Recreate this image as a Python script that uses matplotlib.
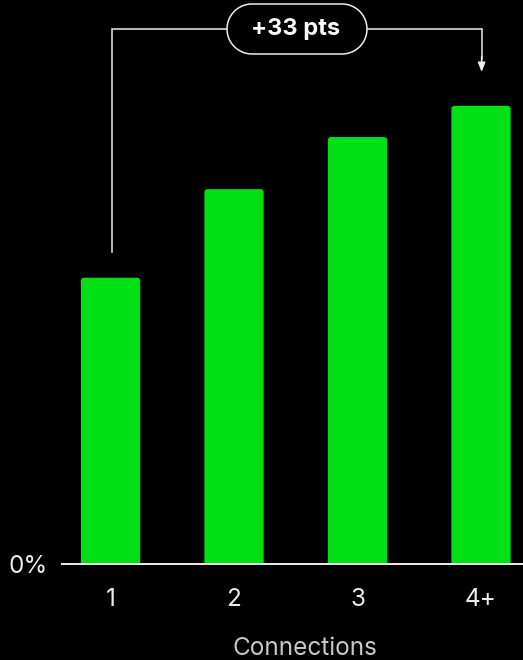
import numpy as np
import matplotlib.pyplot as plt
from matplotlib.patches import FancyBboxPatch, Polygon

plt.rcParams['font.family'] = ['Inter', 'DejaVu Sans']

categories = ['1', '2', '3', '4+']
values = [55, 72, 82, 88]
delta_label = '+33 pts'

green = '#00e014'
fg = '#ececec'

fig = plt.figure(figsize=(5.23, 6.6), dpi=100, facecolor='black')
ax = fig.add_axes([62 / 523, 95.7 / 660, 461 / 523, 564.3 / 660])
ax.set_facecolor('black')

x = list(range(len(categories)))
bw = 0.48
for xi, v in zip(x, values):
    ax.add_patch(FancyBboxPatch((xi - bw / 2, -5), bw, v + 5,
                                boxstyle='round,pad=0,rounding_size=0.025',
                                mutation_aspect=23.7, fc=green, ec='none'))

ax.set_xlim(-0.393, 3.34)
ax.set_ylim(0, 108.3)

for s in ['top', 'right', 'left']:
    ax.spines[s].set_visible(False)
ax.spines['bottom'].set_color(fg)
ax.spines['bottom'].set_linewidth(1.4)

ax.set_xticks(x)
ax.set_xticklabels(categories)
ax.set_yticks([0])
ax.set_yticklabels(['0%'])
ax.tick_params(axis='both', length=0, colors=fg, labelsize=17.5)
ax.tick_params(axis='x', pad=17)
ax.tick_params(axis='y', pad=10)
ax.set_xlabel('Connections', color='#c8c8c8', fontsize=17.5)
ax.xaxis.set_label_coords(0.527, -0.128)

# bracket annotation from first to last bar
top = max(values) + 14.7
ax.plot([x[0] + 0.012, x[0] + 0.012, x[-1] + 0.005, x[-1] + 0.005],
        [values[0] + 5, top, top, values[-1] + 9], color=fg, lw=1.1,
        solid_joinstyle='miter', clip_on=False)
ax.annotate('', xy=(x[-1] + 0.005, values[-1] + 6.5),
            xytext=(x[-1] + 0.005, values[-1] + 9.5),
            arrowprops=dict(arrowstyle='-|>,head_length=0.55,head_width=0.22',
                            color=fg, lw=1.1, shrinkA=0, shrinkB=0))

# pill outline in pixel coordinates (semicircle ends)
r, cy = 25, 631
t = np.linspace(np.pi / 2, 3 * np.pi / 2, 40)
left = np.column_stack([252 + r * np.cos(t), cy + r * np.sin(t)])
right = np.column_stack([342 - r * np.cos(t), cy - r * np.sin(t)])
pill = Polygon(np.vstack([left, right]), closed=True, fc='black', ec=fg,
               lw=1.1, transform=None, clip_on=False, zorder=3)
ax.add_artist(pill)

mid = (x[0] + x[-1]) / 2
ax.text(mid, top, delta_label, ha='center', va='center', color='white',
        fontsize=17, fontweight='bold', zorder=4)

fig.savefig('out.png', dpi=100, facecolor='black')
